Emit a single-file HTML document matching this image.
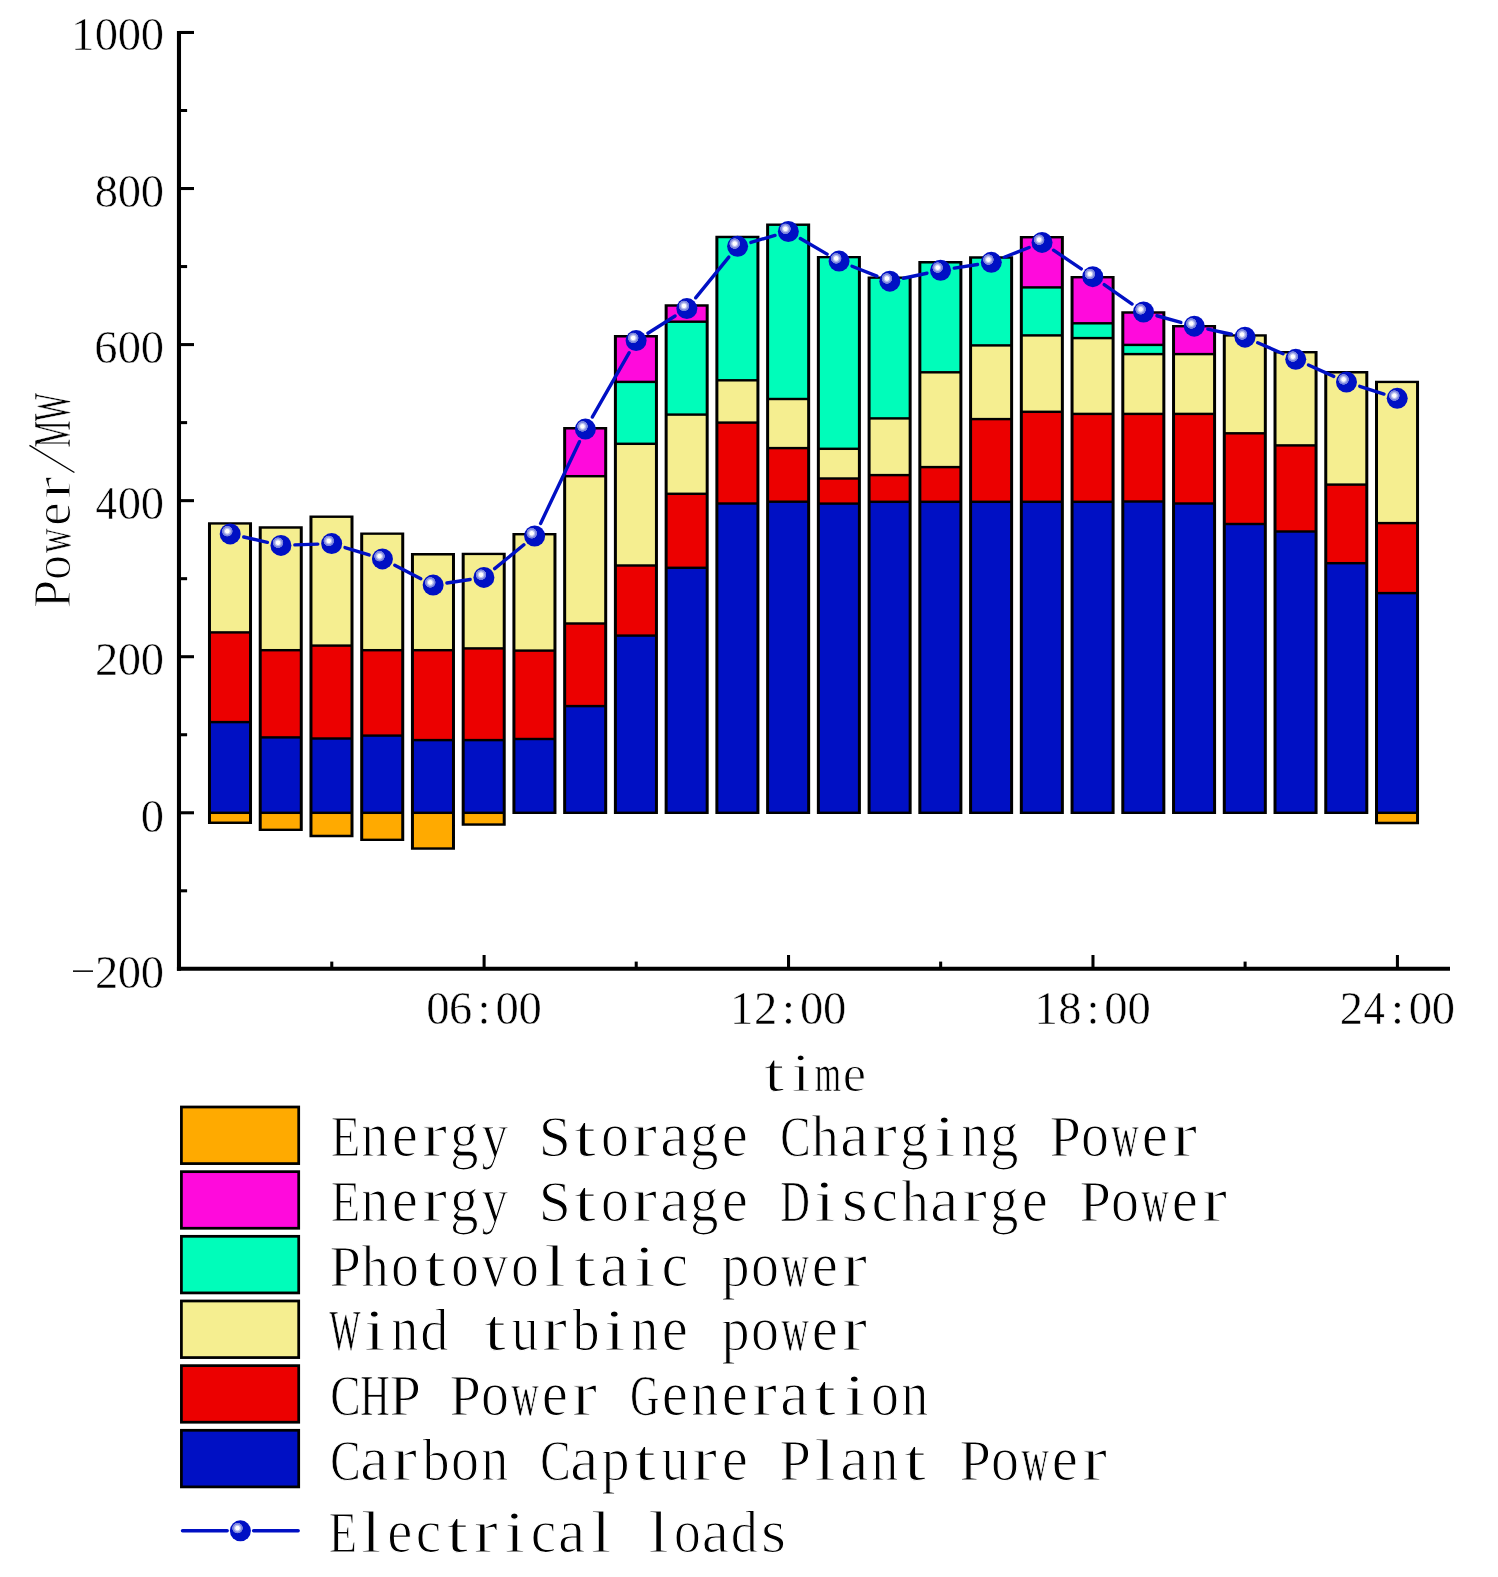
<!DOCTYPE html>
<html><head><meta charset="utf-8"><title>Power balance chart</title>
<style>html,body{margin:0;padding:0;background:#fff}body{width:1498px;height:1577px;overflow:hidden;font-family:"Liberation Serif",serif}svg{display:block}</style>
</head><body>
<svg width="1498" height="1577" viewBox="0 0 1498 1577" font-family="Liberation Serif, serif" fill="#000">
<defs><radialGradient id="sp" cx="0.362" cy="0.371" r="0.262" fx="0.362" fy="0.371"><stop offset="0" stop-color="#ffffff"/><stop offset="0.33" stop-color="#ffffff"/><stop offset="0.46" stop-color="#c6cbf2"/><stop offset="0.6" stop-color="#b0b6ec"/><stop offset="0.7" stop-color="#838cdf"/><stop offset="0.92" stop-color="#7680dc"/><stop offset="1" stop-color="#0010c4"/></radialGradient><filter id="nf" filterUnits="userSpaceOnUse" x="0" y="0" width="1498" height="1577" color-interpolation-filters="sRGB"><feOffset dx="0" dy="0"/></filter></defs>
<rect width="1498" height="1577" fill="#fff"/>
<path fill="#000" d="M207.98 522.18H252.02V823.97H207.98ZM258.72 526.28H302.76V831.07H258.72ZM309.46 515.48H353.50V837.17H309.46ZM360.20 532.38H404.24V841.07H360.20ZM410.94 553.08H454.98V849.77H410.94ZM461.68 552.68H505.72V825.77H461.68ZM512.42 532.98H556.46V814.02H512.42ZM563.16 427.08H607.20V814.02H563.16ZM613.90 335.08H657.94V814.02H613.90ZM664.64 304.28H708.68V814.02H664.64ZM715.38 235.78H759.42V814.02H715.38ZM766.12 223.48H810.16V814.02H766.12ZM816.86 255.88H860.90V814.02H816.86ZM867.60 276.38H911.64V814.02H867.60ZM918.34 261.08H962.38V814.02H918.34ZM969.08 256.28H1013.12V814.02H969.08ZM1019.82 235.98H1063.86V814.02H1019.82ZM1070.56 275.98H1114.60V814.02H1070.56ZM1121.30 311.28H1165.34V814.02H1121.30ZM1172.04 324.98H1216.08V814.02H1172.04ZM1222.78 334.18H1266.82V814.02H1222.78ZM1273.52 350.98H1317.56V814.02H1273.52ZM1324.26 371.08H1368.30V814.02H1324.26ZM1375.00 380.68H1419.04V824.17H1375.00Z"/>
<rect x="210.98" y="814.02" width="38.04" height="7.51" fill="#ffaa00"/>
<rect x="210.98" y="723.32" width="38.04" height="88.26" fill="#0010c4"/>
<rect x="210.98" y="633.62" width="38.04" height="87.26" fill="#ec0000"/>
<rect x="210.98" y="524.62" width="38.04" height="106.56" fill="#f5ee90"/>
<rect x="261.72" y="814.02" width="38.04" height="14.61" fill="#ffaa00"/>
<rect x="261.72" y="738.62" width="38.04" height="72.96" fill="#0010c4"/>
<rect x="261.72" y="651.42" width="38.04" height="84.76" fill="#ec0000"/>
<rect x="261.72" y="528.72" width="38.04" height="120.26" fill="#f5ee90"/>
<rect x="312.46" y="814.02" width="38.04" height="20.71" fill="#ffaa00"/>
<rect x="312.46" y="739.72" width="38.04" height="71.86" fill="#0010c4"/>
<rect x="312.46" y="646.82" width="38.04" height="90.46" fill="#ec0000"/>
<rect x="312.46" y="517.92" width="38.04" height="126.46" fill="#f5ee90"/>
<rect x="363.20" y="814.02" width="38.04" height="24.61" fill="#ffaa00"/>
<rect x="363.20" y="736.82" width="38.04" height="74.76" fill="#0010c4"/>
<rect x="363.20" y="651.42" width="38.04" height="82.96" fill="#ec0000"/>
<rect x="363.20" y="534.82" width="38.04" height="114.16" fill="#f5ee90"/>
<rect x="413.94" y="814.02" width="38.04" height="33.31" fill="#ffaa00"/>
<rect x="413.94" y="741.32" width="38.04" height="70.26" fill="#0010c4"/>
<rect x="413.94" y="651.42" width="38.04" height="87.46" fill="#ec0000"/>
<rect x="413.94" y="555.52" width="38.04" height="93.46" fill="#f5ee90"/>
<rect x="464.68" y="814.02" width="38.04" height="9.31" fill="#ffaa00"/>
<rect x="464.68" y="741.32" width="38.04" height="70.26" fill="#0010c4"/>
<rect x="464.68" y="649.62" width="38.04" height="89.26" fill="#ec0000"/>
<rect x="464.68" y="555.12" width="38.04" height="92.06" fill="#f5ee90"/>
<rect x="515.42" y="740.22" width="38.04" height="71.36" fill="#0010c4"/>
<rect x="515.42" y="651.82" width="38.04" height="85.96" fill="#ec0000"/>
<rect x="515.42" y="535.42" width="38.04" height="113.96" fill="#f5ee90"/>
<rect x="566.16" y="707.32" width="38.04" height="104.26" fill="#0010c4"/>
<rect x="566.16" y="624.72" width="38.04" height="80.16" fill="#ec0000"/>
<rect x="566.16" y="477.42" width="38.04" height="144.86" fill="#f5ee90"/>
<rect x="566.16" y="429.52" width="38.04" height="45.46" fill="#ff0adc"/>
<rect x="616.90" y="636.82" width="38.04" height="174.76" fill="#0010c4"/>
<rect x="616.90" y="566.72" width="38.04" height="67.66" fill="#ec0000"/>
<rect x="616.90" y="445.02" width="38.04" height="119.26" fill="#f5ee90"/>
<rect x="616.90" y="383.12" width="38.04" height="59.46" fill="#00fdba"/>
<rect x="616.90" y="337.52" width="38.04" height="43.16" fill="#ff0adc"/>
<rect x="667.64" y="569.02" width="38.04" height="242.56" fill="#0010c4"/>
<rect x="667.64" y="495.02" width="38.04" height="71.56" fill="#ec0000"/>
<rect x="667.64" y="415.82" width="38.04" height="76.76" fill="#f5ee90"/>
<rect x="667.64" y="322.92" width="38.04" height="90.46" fill="#00fdba"/>
<rect x="667.64" y="306.72" width="38.04" height="13.76" fill="#ff0adc"/>
<rect x="718.38" y="504.72" width="38.04" height="306.86" fill="#0010c4"/>
<rect x="718.38" y="423.82" width="38.04" height="78.46" fill="#ec0000"/>
<rect x="718.38" y="381.52" width="38.04" height="39.86" fill="#f5ee90"/>
<rect x="718.38" y="238.22" width="38.04" height="140.86" fill="#00fdba"/>
<rect x="769.12" y="502.92" width="38.04" height="308.66" fill="#0010c4"/>
<rect x="769.12" y="449.32" width="38.04" height="51.16" fill="#ec0000"/>
<rect x="769.12" y="400.22" width="38.04" height="46.66" fill="#f5ee90"/>
<rect x="769.12" y="225.92" width="38.04" height="171.86" fill="#00fdba"/>
<rect x="819.86" y="504.82" width="38.04" height="306.76" fill="#0010c4"/>
<rect x="819.86" y="479.72" width="38.04" height="22.66" fill="#ec0000"/>
<rect x="819.86" y="450.02" width="38.04" height="27.26" fill="#f5ee90"/>
<rect x="819.86" y="258.32" width="38.04" height="189.26" fill="#00fdba"/>
<rect x="870.60" y="503.02" width="38.04" height="308.56" fill="#0010c4"/>
<rect x="870.60" y="476.32" width="38.04" height="24.26" fill="#ec0000"/>
<rect x="870.60" y="419.62" width="38.04" height="54.26" fill="#f5ee90"/>
<rect x="870.60" y="278.82" width="38.04" height="138.36" fill="#00fdba"/>
<rect x="921.34" y="503.02" width="38.04" height="308.56" fill="#0010c4"/>
<rect x="921.34" y="468.32" width="38.04" height="32.26" fill="#ec0000"/>
<rect x="921.34" y="373.52" width="38.04" height="92.36" fill="#f5ee90"/>
<rect x="921.34" y="263.52" width="38.04" height="107.56" fill="#00fdba"/>
<rect x="972.08" y="503.02" width="38.04" height="308.56" fill="#0010c4"/>
<rect x="972.08" y="420.32" width="38.04" height="80.26" fill="#ec0000"/>
<rect x="972.08" y="346.62" width="38.04" height="71.26" fill="#f5ee90"/>
<rect x="972.08" y="258.72" width="38.04" height="85.46" fill="#00fdba"/>
<rect x="1022.82" y="503.02" width="38.04" height="308.56" fill="#0010c4"/>
<rect x="1022.82" y="413.02" width="38.04" height="87.56" fill="#ec0000"/>
<rect x="1022.82" y="336.62" width="38.04" height="73.96" fill="#f5ee90"/>
<rect x="1022.82" y="288.62" width="38.04" height="45.56" fill="#00fdba"/>
<rect x="1022.82" y="238.42" width="38.04" height="47.76" fill="#ff0adc"/>
<rect x="1073.56" y="503.02" width="38.04" height="308.56" fill="#0010c4"/>
<rect x="1073.56" y="415.12" width="38.04" height="85.46" fill="#ec0000"/>
<rect x="1073.56" y="339.32" width="38.04" height="73.36" fill="#f5ee90"/>
<rect x="1073.56" y="324.52" width="38.04" height="12.36" fill="#00fdba"/>
<rect x="1073.56" y="278.42" width="38.04" height="43.66" fill="#ff0adc"/>
<rect x="1124.30" y="502.72" width="38.04" height="308.86" fill="#0010c4"/>
<rect x="1124.30" y="415.12" width="38.04" height="85.16" fill="#ec0000"/>
<rect x="1124.30" y="355.32" width="38.04" height="57.36" fill="#f5ee90"/>
<rect x="1124.30" y="346.12" width="38.04" height="6.76" fill="#00fdba"/>
<rect x="1124.30" y="313.72" width="38.04" height="29.96" fill="#ff0adc"/>
<rect x="1175.04" y="504.72" width="38.04" height="306.86" fill="#0010c4"/>
<rect x="1175.04" y="415.12" width="38.04" height="87.16" fill="#ec0000"/>
<rect x="1175.04" y="355.32" width="38.04" height="57.36" fill="#f5ee90"/>
<rect x="1175.04" y="327.42" width="38.04" height="25.46" fill="#ff0adc"/>
<rect x="1225.78" y="525.22" width="38.04" height="286.36" fill="#0010c4"/>
<rect x="1225.78" y="434.52" width="38.04" height="88.26" fill="#ec0000"/>
<rect x="1225.78" y="336.62" width="38.04" height="95.46" fill="#f5ee90"/>
<rect x="1276.52" y="532.72" width="38.04" height="278.86" fill="#0010c4"/>
<rect x="1276.52" y="446.62" width="38.04" height="83.66" fill="#ec0000"/>
<rect x="1276.52" y="353.42" width="38.04" height="90.76" fill="#f5ee90"/>
<rect x="1327.26" y="564.42" width="38.04" height="247.16" fill="#0010c4"/>
<rect x="1327.26" y="485.82" width="38.04" height="76.16" fill="#ec0000"/>
<rect x="1327.26" y="373.52" width="38.04" height="109.86" fill="#f5ee90"/>
<rect x="1378.00" y="814.02" width="38.04" height="7.71" fill="#ffaa00"/>
<rect x="1378.00" y="594.32" width="38.04" height="217.26" fill="#0010c4"/>
<rect x="1378.00" y="524.32" width="38.04" height="67.56" fill="#ec0000"/>
<rect x="1378.00" y="383.12" width="38.04" height="138.76" fill="#f5ee90"/>
<g stroke="#000" stroke-width="4.1" fill="none">
<path d="M178.98 30.94V970.8499999999999"/>
<path d="M176.92999999999998 968.8H1450"/>
<path stroke-width="3.05" d="M178.98 32.47H194"/>
<path stroke-width="3.05" d="M178.98 188.53H194"/>
<path stroke-width="3.05" d="M178.98 344.59H194"/>
<path stroke-width="3.05" d="M178.98 500.65H194"/>
<path stroke-width="3.05" d="M178.98 656.71H194"/>
<path stroke-width="3.05" d="M178.98 812.77H194"/>
<path stroke-width="3.05" d="M178.98 110.50H187.1"/>
<path stroke-width="3.05" d="M178.98 266.56H187.1"/>
<path stroke-width="3.05" d="M178.98 422.62H187.1"/>
<path stroke-width="3.05" d="M178.98 578.68H187.1"/>
<path stroke-width="3.05" d="M178.98 734.74H187.1"/>
<path stroke-width="3.05" d="M178.98 890.80H187.1"/>
<path stroke-width="3.05" d="M484.10 968.8V955.0"/>
<path stroke-width="3.05" d="M788.54 968.8V955.0"/>
<path stroke-width="3.05" d="M1092.98 968.8V955.0"/>
<path stroke-width="3.05" d="M1397.42 968.8V955.0"/>
<path stroke-width="3.05" d="M331.78 968.8V961.6"/>
<path stroke-width="3.05" d="M636.22 968.8V961.6"/>
<path stroke-width="3.05" d="M940.66 968.8V961.6"/>
<path stroke-width="3.05" d="M1245.10 968.8V961.6"/>
</g>
<g stroke="#0010c4" stroke-width="3.4" stroke-linecap="round">
<path d="M243.76 536.97L267.38 542.33"/>
<path d="M294.83 544.91L317.79 544.09"/>
<path d="M344.99 547.61L369.11 554.89"/>
<path d="M394.77 565.28L420.81 578.72"/>
<path d="M446.90 583.01L470.16 579.49"/>
<path d="M494.67 568.61L523.87 544.79"/>
<path d="M540.60 523.44L579.42 441.66"/>
<path d="M592.29 417.04L629.21 352.66"/>
<path d="M647.88 333.19L675.10 316.01"/>
<path d="M695.64 297.82L728.82 257.08"/>
<path d="M750.94 242.41L775.00 235.39"/>
<path d="M800.35 238.50L827.07 254.10"/>
<path d="M852.00 266.22L876.90 276.08"/>
<path d="M903.41 278.28L926.97 273.22"/>
<path d="M954.29 268.14L977.57 264.46"/>
<path d="M1004.24 257.22L1029.10 247.48"/>
<path d="M1053.56 250.18L1081.26 268.92"/>
<path d="M1104.19 284.64L1132.11 304.06"/>
<path d="M1156.91 315.75L1180.87 322.45"/>
<path d="M1207.84 329.14L1231.42 334.26"/>
<path d="M1257.74 342.75L1283.00 353.75"/>
<path d="M1308.42 365.00L1333.80 376.40"/>
<path d="M1359.72 386.33L1383.98 394.07"/>
</g>
<circle cx="230.20" cy="533.90" r="10.5" fill="url(#sp)"/>
<circle cx="280.94" cy="545.40" r="10.5" fill="url(#sp)"/>
<circle cx="331.68" cy="543.60" r="10.5" fill="url(#sp)"/>
<circle cx="382.42" cy="558.90" r="10.5" fill="url(#sp)"/>
<circle cx="433.16" cy="585.10" r="10.5" fill="url(#sp)"/>
<circle cx="483.90" cy="577.40" r="10.5" fill="url(#sp)"/>
<circle cx="534.64" cy="536.00" r="10.5" fill="url(#sp)"/>
<circle cx="585.38" cy="429.10" r="10.5" fill="url(#sp)"/>
<circle cx="636.12" cy="340.60" r="10.5" fill="url(#sp)"/>
<circle cx="686.86" cy="308.60" r="10.5" fill="url(#sp)"/>
<circle cx="737.60" cy="246.30" r="10.5" fill="url(#sp)"/>
<circle cx="788.34" cy="231.50" r="10.5" fill="url(#sp)"/>
<circle cx="839.08" cy="261.10" r="10.5" fill="url(#sp)"/>
<circle cx="889.82" cy="281.20" r="10.5" fill="url(#sp)"/>
<circle cx="940.56" cy="270.30" r="10.5" fill="url(#sp)"/>
<circle cx="991.30" cy="262.30" r="10.5" fill="url(#sp)"/>
<circle cx="1042.04" cy="242.40" r="10.5" fill="url(#sp)"/>
<circle cx="1092.78" cy="276.70" r="10.5" fill="url(#sp)"/>
<circle cx="1143.52" cy="312.00" r="10.5" fill="url(#sp)"/>
<circle cx="1194.26" cy="326.20" r="10.5" fill="url(#sp)"/>
<circle cx="1245.00" cy="337.20" r="10.5" fill="url(#sp)"/>
<circle cx="1295.74" cy="359.30" r="10.5" fill="url(#sp)"/>
<circle cx="1346.48" cy="382.10" r="10.5" fill="url(#sp)"/>
<circle cx="1397.22" cy="398.30" r="10.5" fill="url(#sp)"/>
<g filter="url(#nf)">
<g stroke="#fff" stroke-width="0.5"><text transform="translate(70.90,50.30) scale(1.000,1.000)" font-size="46.6" stroke-width="0.50">1</text><text transform="translate(94.65,50.30) scale(1.000,1.000)" font-size="46.6" stroke-width="0.50">0</text><text transform="translate(117.75,50.30) scale(1.000,1.000)" font-size="46.6" stroke-width="0.50">0</text><text transform="translate(140.85,50.30) scale(1.000,1.000)" font-size="46.6" stroke-width="0.50">0</text></g>
<g stroke="#fff" stroke-width="0.5"><text transform="translate(94.65,206.54) scale(1.000,1.000)" font-size="46.6" stroke-width="0.50">8</text><text transform="translate(117.75,206.54) scale(1.000,1.000)" font-size="46.6" stroke-width="0.50">0</text><text transform="translate(140.85,206.54) scale(1.000,1.000)" font-size="46.6" stroke-width="0.50">0</text></g>
<g stroke="#fff" stroke-width="0.5"><text transform="translate(94.37,362.78) scale(0.998,1.000)" font-size="46.6" stroke-width="0.50">6</text><text transform="translate(117.75,362.78) scale(1.000,1.000)" font-size="46.6" stroke-width="0.50">0</text><text transform="translate(140.85,362.78) scale(1.000,1.000)" font-size="46.6" stroke-width="0.50">0</text></g>
<g stroke="#fff" stroke-width="0.5"><text transform="translate(95.53,519.02) scale(0.917,1.000)" font-size="46.6" stroke-width="0.50">4</text><text transform="translate(117.75,519.02) scale(1.000,1.000)" font-size="46.6" stroke-width="0.50">0</text><text transform="translate(140.85,519.02) scale(1.000,1.000)" font-size="46.6" stroke-width="0.50">0</text></g>
<g stroke="#fff" stroke-width="0.5"><text transform="translate(94.91,675.26) scale(1.000,1.000)" font-size="46.6" stroke-width="0.50">2</text><text transform="translate(117.75,675.26) scale(1.000,1.000)" font-size="46.6" stroke-width="0.50">0</text><text transform="translate(140.85,675.26) scale(1.000,1.000)" font-size="46.6" stroke-width="0.50">0</text></g>
<g stroke="#fff" stroke-width="0.5"><text transform="translate(140.85,831.50) scale(1.000,1.000)" font-size="46.6" stroke-width="0.50">0</text></g>
<g stroke="#fff" stroke-width="0.5"><text transform="translate(94.91,987.74) scale(1.000,1.000)" font-size="46.6" stroke-width="0.50">2</text><text transform="translate(117.75,987.74) scale(1.000,1.000)" font-size="46.6" stroke-width="0.50">0</text><text transform="translate(140.85,987.74) scale(1.000,1.000)" font-size="46.6" stroke-width="0.50">0</text></g>
<rect x="73" y="970.4" width="20" height="1.5"/>
<g stroke="#fff" stroke-width="0.5"><text transform="translate(426.15,1023.60) scale(1.000,1.000)" font-size="46.6" stroke-width="0.50">0</text><text transform="translate(448.97,1023.60) scale(0.998,1.000)" font-size="46.6" stroke-width="0.50">6</text><text transform="translate(477.57,1023.60) scale(1.000,1.000)" font-size="46.6" stroke-width="0.50">:</text><text transform="translate(495.45,1023.60) scale(1.000,1.000)" font-size="46.6" stroke-width="0.50">0</text><text transform="translate(518.55,1023.60) scale(1.000,1.000)" font-size="46.6" stroke-width="0.50">0</text></g>
<g stroke="#fff" stroke-width="0.5"><text transform="translate(729.94,1023.60) scale(1.000,1.000)" font-size="46.6" stroke-width="0.50">1</text><text transform="translate(753.95,1023.60) scale(1.000,1.000)" font-size="46.6" stroke-width="0.50">2</text><text transform="translate(782.01,1023.60) scale(1.000,1.000)" font-size="46.6" stroke-width="0.50">:</text><text transform="translate(799.89,1023.60) scale(1.000,1.000)" font-size="46.6" stroke-width="0.50">0</text><text transform="translate(822.99,1023.60) scale(1.000,1.000)" font-size="46.6" stroke-width="0.50">0</text></g>
<g stroke="#fff" stroke-width="0.5"><text transform="translate(1034.38,1023.60) scale(1.000,1.000)" font-size="46.6" stroke-width="0.50">1</text><text transform="translate(1058.13,1023.60) scale(1.000,1.000)" font-size="46.6" stroke-width="0.50">8</text><text transform="translate(1086.45,1023.60) scale(1.000,1.000)" font-size="46.6" stroke-width="0.50">:</text><text transform="translate(1104.33,1023.60) scale(1.000,1.000)" font-size="46.6" stroke-width="0.50">0</text><text transform="translate(1127.43,1023.60) scale(1.000,1.000)" font-size="46.6" stroke-width="0.50">0</text></g>
<g stroke="#fff" stroke-width="0.5"><text transform="translate(1339.73,1023.60) scale(1.000,1.000)" font-size="46.6" stroke-width="0.50">2</text><text transform="translate(1363.45,1023.60) scale(0.917,1.000)" font-size="46.6" stroke-width="0.50">4</text><text transform="translate(1390.89,1023.60) scale(1.000,1.000)" font-size="46.6" stroke-width="0.50">:</text><text transform="translate(1408.77,1023.60) scale(1.000,1.000)" font-size="46.6" stroke-width="0.50">0</text><text transform="translate(1431.87,1023.60) scale(1.000,1.000)" font-size="46.6" stroke-width="0.50">0</text></g>
<g stroke="#fff" stroke-width="0.95"><text transform="translate(764.01,1090.80) scale(1.350,1.000)" font-size="54.5" stroke-width="1.14">t</text><text transform="translate(791.42,1090.80) scale(1.273,1.000)" font-size="54.5" stroke-width="1.14">i</text><text transform="translate(814.68,1090.80) scale(0.618,0.970)" font-size="54.5" stroke-width="0.68">m</text><text transform="translate(842.85,1090.80) scale(0.964,0.970)" font-size="54.5" stroke-width="1.14">e</text></g>
<g stroke="#fff" stroke-width="0.95" transform="translate(69.9,500.7) rotate(-90)"><text transform="translate(-107.34,0.00) scale(0.923,0.970)" font-size="54.5" stroke-width="1.14">P</text><text transform="translate(-79.34,0.00) scale(0.915,0.960)" font-size="54.5" stroke-width="1.13">o</text><text transform="translate(-52.42,0.00) scale(0.628,0.960)" font-size="54.5" stroke-width="0.69">w</text><text transform="translate(-25.15,0.00) scale(0.964,0.960)" font-size="54.5" stroke-width="1.14">e</text><text transform="translate(1.77,0.00) scale(1.237,0.960)" font-size="54.5" stroke-width="1.14">r</text><text transform="translate(53.53,0.00) scale(0.551,0.970)" font-size="54.5" stroke-width="0.59">M</text><text transform="translate(79.49,0.00) scale(0.550,0.970)" font-size="54.5" stroke-width="0.58">W</text></g>
<path transform="translate(69.9,500.7) rotate(-90)" d="M28.2 4.5L55.3 -40.4" stroke="#000" stroke-width="1.35" fill="none"/>
<rect x="181.4" y="1107.00" width="117.3" height="56.6" fill="#ffaa00" stroke="#000" stroke-width="2.75"/>
<g stroke="#fff" stroke-width="0.95"><text transform="translate(330.70,1156.30) scale(0.815,0.965)" font-size="59.5" stroke-width="0.97">E</text><text transform="translate(361.26,1156.30) scale(0.910,1.060)" font-size="59.5" stroke-width="1.12">n</text><text transform="translate(391.80,1156.30) scale(0.990,1.060)" font-size="59.5" stroke-width="1.14">e</text><text transform="translate(421.99,1156.30) scale(1.271,1.060)" font-size="59.5" stroke-width="1.14">r</text><text transform="translate(450.05,1156.30) scale(0.959,1.060)" font-size="59.5" stroke-width="1.14">g</text><text transform="translate(481.45,1156.30) scale(0.896,1.060)" font-size="59.5" stroke-width="1.10">y</text><text transform="translate(538.85,1156.30) scale(0.968,0.965)" font-size="59.5" stroke-width="1.14">S</text><text transform="translate(573.68,1156.30) scale(1.350,1.000)" font-size="59.5" stroke-width="1.14">t</text><text transform="translate(601.02,1156.30) scale(0.940,1.060)" font-size="59.5" stroke-width="1.14">o</text><text transform="translate(631.99,1156.30) scale(1.271,1.060)" font-size="59.5" stroke-width="1.14">r</text><text transform="translate(660.10,1156.30) scale(1.076,1.060)" font-size="59.5" stroke-width="1.14">a</text><text transform="translate(690.05,1156.30) scale(0.959,1.060)" font-size="59.5" stroke-width="1.14">g</text><text transform="translate(721.80,1156.30) scale(0.990,1.060)" font-size="59.5" stroke-width="1.14">e</text><text transform="translate(780.13,1156.30) scale(0.766,0.965)" font-size="59.5" stroke-width="0.90">C</text><text transform="translate(811.47,1156.30) scale(0.916,1.000)" font-size="59.5" stroke-width="1.13">h</text><text transform="translate(840.10,1156.30) scale(1.076,1.060)" font-size="59.5" stroke-width="1.14">a</text><text transform="translate(871.99,1156.30) scale(1.271,1.060)" font-size="59.5" stroke-width="1.14">r</text><text transform="translate(900.05,1156.30) scale(0.959,1.060)" font-size="59.5" stroke-width="1.14">g</text><text transform="translate(934.12,1156.30) scale(1.308,1.000)" font-size="59.5" stroke-width="1.14">i</text><text transform="translate(961.26,1156.30) scale(0.910,1.060)" font-size="59.5" stroke-width="1.12">n</text><text transform="translate(990.05,1156.30) scale(0.959,1.060)" font-size="59.5" stroke-width="1.14">g</text><text transform="translate(1049.62,1156.30) scale(0.948,0.965)" font-size="59.5" stroke-width="1.14">P</text><text transform="translate(1081.02,1156.30) scale(0.940,1.060)" font-size="59.5" stroke-width="1.14">o</text><text transform="translate(1111.21,1156.30) scale(0.645,1.060)" font-size="59.5" stroke-width="0.72">w</text><text transform="translate(1141.80,1156.30) scale(0.990,1.060)" font-size="59.5" stroke-width="1.14">e</text><text transform="translate(1171.99,1156.30) scale(1.271,1.060)" font-size="59.5" stroke-width="1.14">r</text></g>
<rect x="181.4" y="1171.66" width="117.3" height="56.6" fill="#ff0adc" stroke="#000" stroke-width="2.75"/>
<g stroke="#fff" stroke-width="0.95"><text transform="translate(330.70,1221.02) scale(0.815,0.965)" font-size="59.5" stroke-width="0.97">E</text><text transform="translate(361.26,1221.02) scale(0.910,1.060)" font-size="59.5" stroke-width="1.12">n</text><text transform="translate(391.80,1221.02) scale(0.990,1.060)" font-size="59.5" stroke-width="1.14">e</text><text transform="translate(421.99,1221.02) scale(1.271,1.060)" font-size="59.5" stroke-width="1.14">r</text><text transform="translate(450.05,1221.02) scale(0.959,1.060)" font-size="59.5" stroke-width="1.14">g</text><text transform="translate(481.45,1221.02) scale(0.896,1.060)" font-size="59.5" stroke-width="1.10">y</text><text transform="translate(538.85,1221.02) scale(0.968,0.965)" font-size="59.5" stroke-width="1.14">S</text><text transform="translate(573.68,1221.02) scale(1.350,1.000)" font-size="59.5" stroke-width="1.14">t</text><text transform="translate(601.02,1221.02) scale(0.940,1.060)" font-size="59.5" stroke-width="1.14">o</text><text transform="translate(631.99,1221.02) scale(1.271,1.060)" font-size="59.5" stroke-width="1.14">r</text><text transform="translate(660.10,1221.02) scale(1.076,1.060)" font-size="59.5" stroke-width="1.14">a</text><text transform="translate(690.05,1221.02) scale(0.959,1.060)" font-size="59.5" stroke-width="1.14">g</text><text transform="translate(721.80,1221.02) scale(0.990,1.060)" font-size="59.5" stroke-width="1.14">e</text><text transform="translate(780.58,1221.02) scale(0.682,0.965)" font-size="59.5" stroke-width="0.77">D</text><text transform="translate(814.12,1221.02) scale(1.308,1.000)" font-size="59.5" stroke-width="1.14">i</text><text transform="translate(841.74,1221.02) scale(1.131,1.060)" font-size="59.5" stroke-width="1.14">s</text><text transform="translate(871.46,1221.02) scale(1.008,1.060)" font-size="59.5" stroke-width="1.14">c</text><text transform="translate(901.47,1221.02) scale(0.916,1.000)" font-size="59.5" stroke-width="1.13">h</text><text transform="translate(930.10,1221.02) scale(1.076,1.060)" font-size="59.5" stroke-width="1.14">a</text><text transform="translate(961.99,1221.02) scale(1.271,1.060)" font-size="59.5" stroke-width="1.14">r</text><text transform="translate(990.05,1221.02) scale(0.959,1.060)" font-size="59.5" stroke-width="1.14">g</text><text transform="translate(1021.80,1221.02) scale(0.990,1.060)" font-size="59.5" stroke-width="1.14">e</text><text transform="translate(1079.62,1221.02) scale(0.948,0.965)" font-size="59.5" stroke-width="1.14">P</text><text transform="translate(1111.02,1221.02) scale(0.940,1.060)" font-size="59.5" stroke-width="1.14">o</text><text transform="translate(1141.21,1221.02) scale(0.645,1.060)" font-size="59.5" stroke-width="0.72">w</text><text transform="translate(1171.80,1221.02) scale(0.990,1.060)" font-size="59.5" stroke-width="1.14">e</text><text transform="translate(1201.99,1221.02) scale(1.271,1.060)" font-size="59.5" stroke-width="1.14">r</text></g>
<rect x="181.4" y="1236.32" width="117.3" height="56.6" fill="#00fdba" stroke="#000" stroke-width="2.75"/>
<g stroke="#fff" stroke-width="0.95"><text transform="translate(329.62,1285.74) scale(0.948,0.965)" font-size="59.5" stroke-width="1.14">P</text><text transform="translate(361.47,1285.74) scale(0.916,1.000)" font-size="59.5" stroke-width="1.13">h</text><text transform="translate(391.02,1285.74) scale(0.940,1.060)" font-size="59.5" stroke-width="1.14">o</text><text transform="translate(423.68,1285.74) scale(1.350,1.000)" font-size="59.5" stroke-width="1.14">t</text><text transform="translate(451.02,1285.74) scale(0.940,1.060)" font-size="59.5" stroke-width="1.14">o</text><text transform="translate(482.00,1285.74) scale(0.874,1.060)" font-size="59.5" stroke-width="1.07">v</text><text transform="translate(511.02,1285.74) scale(0.940,1.060)" font-size="59.5" stroke-width="1.14">o</text><text transform="translate(544.19,1285.74) scale(1.308,1.000)" font-size="59.5" stroke-width="1.14">l</text><text transform="translate(573.68,1285.74) scale(1.350,1.000)" font-size="59.5" stroke-width="1.14">t</text><text transform="translate(600.10,1285.74) scale(1.076,1.060)" font-size="59.5" stroke-width="1.14">a</text><text transform="translate(634.12,1285.74) scale(1.308,1.000)" font-size="59.5" stroke-width="1.14">i</text><text transform="translate(661.46,1285.74) scale(1.008,1.060)" font-size="59.5" stroke-width="1.14">c</text><text transform="translate(721.59,1285.74) scale(0.945,1.060)" font-size="59.5" stroke-width="1.14">p</text><text transform="translate(751.02,1285.74) scale(0.940,1.060)" font-size="59.5" stroke-width="1.14">o</text><text transform="translate(781.21,1285.74) scale(0.645,1.060)" font-size="59.5" stroke-width="0.72">w</text><text transform="translate(811.80,1285.74) scale(0.990,1.060)" font-size="59.5" stroke-width="1.14">e</text><text transform="translate(841.99,1285.74) scale(1.271,1.060)" font-size="59.5" stroke-width="1.14">r</text></g>
<rect x="181.4" y="1300.98" width="117.3" height="56.6" fill="#f5ee90" stroke="#000" stroke-width="2.75"/>
<g stroke="#fff" stroke-width="0.95"><text transform="translate(329.57,1350.46) scale(0.550,0.965)" font-size="59.5" stroke-width="0.58">W</text><text transform="translate(364.12,1350.46) scale(1.308,1.000)" font-size="59.5" stroke-width="1.14">i</text><text transform="translate(391.26,1350.46) scale(0.910,1.060)" font-size="59.5" stroke-width="1.12">n</text><text transform="translate(420.21,1350.46) scale(0.949,1.000)" font-size="59.5" stroke-width="1.14">d</text><text transform="translate(483.68,1350.46) scale(1.350,1.000)" font-size="59.5" stroke-width="1.14">t</text><text transform="translate(511.53,1350.46) scale(0.912,1.060)" font-size="59.5" stroke-width="1.13">u</text><text transform="translate(541.99,1350.46) scale(1.271,1.060)" font-size="59.5" stroke-width="1.14">r</text><text transform="translate(572.50,1350.46) scale(0.910,1.000)" font-size="59.5" stroke-width="1.12">b</text><text transform="translate(604.12,1350.46) scale(1.308,1.000)" font-size="59.5" stroke-width="1.14">i</text><text transform="translate(631.26,1350.46) scale(0.910,1.060)" font-size="59.5" stroke-width="1.12">n</text><text transform="translate(661.80,1350.46) scale(0.990,1.060)" font-size="59.5" stroke-width="1.14">e</text><text transform="translate(721.59,1350.46) scale(0.945,1.060)" font-size="59.5" stroke-width="1.14">p</text><text transform="translate(751.02,1350.46) scale(0.940,1.060)" font-size="59.5" stroke-width="1.14">o</text><text transform="translate(781.21,1350.46) scale(0.645,1.060)" font-size="59.5" stroke-width="0.72">w</text><text transform="translate(811.80,1350.46) scale(0.990,1.060)" font-size="59.5" stroke-width="1.14">e</text><text transform="translate(841.99,1350.46) scale(1.271,1.060)" font-size="59.5" stroke-width="1.14">r</text></g>
<rect x="181.4" y="1365.64" width="117.3" height="56.6" fill="#ec0000" stroke="#000" stroke-width="2.75"/>
<g stroke="#fff" stroke-width="0.95"><text transform="translate(330.13,1415.18) scale(0.766,0.965)" font-size="59.5" stroke-width="0.90">C</text><text transform="translate(360.33,1415.18) scale(0.683,0.965)" font-size="59.5" stroke-width="0.77">H</text><text transform="translate(389.62,1415.18) scale(0.948,0.965)" font-size="59.5" stroke-width="1.14">P</text><text transform="translate(449.62,1415.18) scale(0.948,0.965)" font-size="59.5" stroke-width="1.14">P</text><text transform="translate(481.02,1415.18) scale(0.940,1.060)" font-size="59.5" stroke-width="1.14">o</text><text transform="translate(511.21,1415.18) scale(0.645,1.060)" font-size="59.5" stroke-width="0.72">w</text><text transform="translate(541.80,1415.18) scale(0.990,1.060)" font-size="59.5" stroke-width="1.14">e</text><text transform="translate(571.99,1415.18) scale(1.271,1.060)" font-size="59.5" stroke-width="1.14">r</text><text transform="translate(630.36,1415.18) scale(0.672,0.965)" font-size="59.5" stroke-width="0.76">G</text><text transform="translate(661.80,1415.18) scale(0.990,1.060)" font-size="59.5" stroke-width="1.14">e</text><text transform="translate(691.26,1415.18) scale(0.910,1.060)" font-size="59.5" stroke-width="1.12">n</text><text transform="translate(721.80,1415.18) scale(0.990,1.060)" font-size="59.5" stroke-width="1.14">e</text><text transform="translate(751.99,1415.18) scale(1.271,1.060)" font-size="59.5" stroke-width="1.14">r</text><text transform="translate(780.10,1415.18) scale(1.076,1.060)" font-size="59.5" stroke-width="1.14">a</text><text transform="translate(813.68,1415.18) scale(1.350,1.000)" font-size="59.5" stroke-width="1.14">t</text><text transform="translate(844.12,1415.18) scale(1.308,1.000)" font-size="59.5" stroke-width="1.14">i</text><text transform="translate(871.02,1415.18) scale(0.940,1.060)" font-size="59.5" stroke-width="1.14">o</text><text transform="translate(901.26,1415.18) scale(0.910,1.060)" font-size="59.5" stroke-width="1.12">n</text></g>
<rect x="181.4" y="1430.30" width="117.3" height="56.6" fill="#0010c4" stroke="#000" stroke-width="2.75"/>
<g stroke="#fff" stroke-width="0.95"><text transform="translate(330.13,1479.90) scale(0.766,0.965)" font-size="59.5" stroke-width="0.90">C</text><text transform="translate(360.10,1479.90) scale(1.076,1.060)" font-size="59.5" stroke-width="1.14">a</text><text transform="translate(391.99,1479.90) scale(1.271,1.060)" font-size="59.5" stroke-width="1.14">r</text><text transform="translate(422.50,1479.90) scale(0.910,1.000)" font-size="59.5" stroke-width="1.12">b</text><text transform="translate(451.02,1479.90) scale(0.940,1.060)" font-size="59.5" stroke-width="1.14">o</text><text transform="translate(481.26,1479.90) scale(0.910,1.060)" font-size="59.5" stroke-width="1.12">n</text><text transform="translate(540.13,1479.90) scale(0.766,0.965)" font-size="59.5" stroke-width="0.90">C</text><text transform="translate(570.10,1479.90) scale(1.076,1.060)" font-size="59.5" stroke-width="1.14">a</text><text transform="translate(601.59,1479.90) scale(0.945,1.060)" font-size="59.5" stroke-width="1.14">p</text><text transform="translate(633.68,1479.90) scale(1.350,1.000)" font-size="59.5" stroke-width="1.14">t</text><text transform="translate(661.53,1479.90) scale(0.912,1.060)" font-size="59.5" stroke-width="1.13">u</text><text transform="translate(691.99,1479.90) scale(1.271,1.060)" font-size="59.5" stroke-width="1.14">r</text><text transform="translate(721.80,1479.90) scale(0.990,1.060)" font-size="59.5" stroke-width="1.14">e</text><text transform="translate(779.62,1479.90) scale(0.948,0.965)" font-size="59.5" stroke-width="1.14">P</text><text transform="translate(814.19,1479.90) scale(1.308,1.000)" font-size="59.5" stroke-width="1.14">l</text><text transform="translate(840.10,1479.90) scale(1.076,1.060)" font-size="59.5" stroke-width="1.14">a</text><text transform="translate(871.26,1479.90) scale(0.910,1.060)" font-size="59.5" stroke-width="1.12">n</text><text transform="translate(903.68,1479.90) scale(1.350,1.000)" font-size="59.5" stroke-width="1.14">t</text><text transform="translate(959.62,1479.90) scale(0.948,0.965)" font-size="59.5" stroke-width="1.14">P</text><text transform="translate(991.02,1479.90) scale(0.940,1.060)" font-size="59.5" stroke-width="1.14">o</text><text transform="translate(1021.21,1479.90) scale(0.645,1.060)" font-size="59.5" stroke-width="0.72">w</text><text transform="translate(1051.80,1479.90) scale(0.990,1.060)" font-size="59.5" stroke-width="1.14">e</text><text transform="translate(1081.99,1479.90) scale(1.271,1.060)" font-size="59.5" stroke-width="1.14">r</text></g>
<g stroke="#0010c4" stroke-width="3.4" stroke-linecap="round"><path d="M182.5 1530.8H227.2"/><path d="M253.6 1530.8H298.2"/></g>
<circle cx="240.4" cy="1530.8" r="10.5" fill="url(#sp)"/>
<g stroke="#fff" stroke-width="0.95"><text transform="translate(328.67,1551.60) scale(0.794,0.965)" font-size="58.5" stroke-width="0.94">E</text><text transform="translate(360.77,1551.60) scale(1.274,1.000)" font-size="58.5" stroke-width="1.14">l</text><text transform="translate(387.22,1551.60) scale(0.965,1.060)" font-size="58.5" stroke-width="1.14">e</text><text transform="translate(415.65,1551.60) scale(0.983,1.060)" font-size="58.5" stroke-width="1.14">c</text><text transform="translate(446.25,1551.60) scale(1.350,1.000)" font-size="58.5" stroke-width="1.14">t</text><text transform="translate(473.65,1551.60) scale(1.239,1.060)" font-size="58.5" stroke-width="1.14">r</text><text transform="translate(504.45,1551.60) scale(1.274,1.000)" font-size="58.5" stroke-width="1.14">i</text><text transform="translate(530.65,1551.60) scale(0.983,1.060)" font-size="58.5" stroke-width="1.14">c</text><text transform="translate(558.09,1551.60) scale(1.049,1.060)" font-size="58.5" stroke-width="1.14">a</text><text transform="translate(590.77,1551.60) scale(1.274,1.000)" font-size="58.5" stroke-width="1.14">l</text><text transform="translate(648.27,1551.60) scale(1.274,1.000)" font-size="58.5" stroke-width="1.14">l</text><text transform="translate(673.98,1551.60) scale(0.916,1.060)" font-size="58.5" stroke-width="1.13">o</text><text transform="translate(701.84,1551.60) scale(1.049,1.060)" font-size="58.5" stroke-width="1.14">a</text><text transform="translate(730.70,1551.60) scale(0.925,1.000)" font-size="58.5" stroke-width="1.14">d</text><text transform="translate(760.92,1551.60) scale(1.103,1.060)" font-size="58.5" stroke-width="1.14">s</text></g>
</g>
</svg>
</body></html>
